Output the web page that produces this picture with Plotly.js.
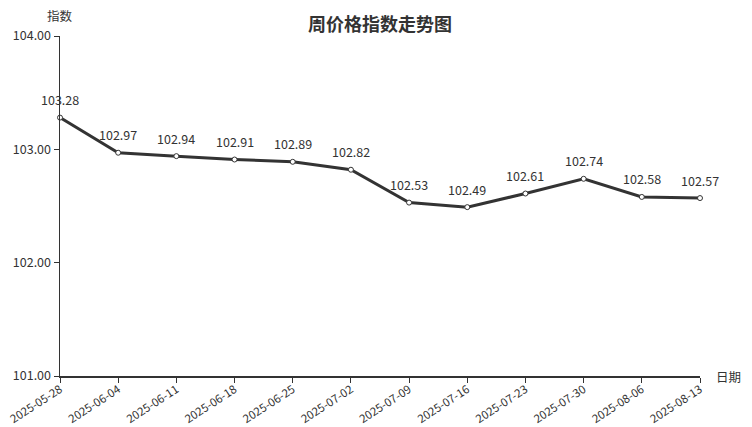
<!DOCTYPE html>
<html>
<head>
<meta charset="utf-8">
<script src="https://cdn.plot.ly/plotly-3.0.1.min.js"></script>
<style>
html, body { margin: 0; padding: 0; background: #fff; }
#chart { width: 752px; height: 427px; }
</style>
</head>
<body>
<div id="chart"></div>
<script>
// Weekly price index
const dates = ["2025-05-28", "2025-06-04", "2025-06-11", "2025-06-18", "2025-06-25", "2025-07-02",
               "2025-07-09", "2025-07-16", "2025-07-23", "2025-07-30", "2025-08-06", "2025-08-13"];
const indexValues = [103.28, 102.97, 102.94, 102.91, 102.89, 102.82,
                     102.53, 102.49, 102.61, 102.74, 102.58, 102.57];
const yTicks = [101, 102, 103, 104];

const FONT = '"Noto Sans CJK SC", "Noto Sans", sans-serif';
const INK = '#333333';

const trace = {
  type: 'scatter',
  mode: 'lines+markers',
  x: dates,
  y: indexValues,
  line: { color: INK, width: 3 },
  marker: { size: 5, color: '#ffffff', line: { color: INK, width: 1 } },
  cliponaxis: false,
  hoverinfo: 'x+y'
};

// value labels floating above each point
const valueLabels = dates.map((d, i) => ({
  x: d, y: indexValues[i], xref: 'x', yref: 'y',
  text: indexValues[i].toFixed(2),
  showarrow: false, xanchor: 'center', yanchor: 'middle', yshift: 18,
  font: { family: FONT, size: 12.5, color: INK }
}));

const layout = {
  width: 752,
  height: 427,
  margin: { l: 60, r: 52, t: 36, b: 51 },
  paper_bgcolor: '#ffffff',
  plot_bgcolor: '#ffffff',
  font: { family: FONT, size: 12, color: INK },
  showlegend: false,
  title: {
    text: '<b>周价格指数走势图</b>',
    font: { family: FONT, size: 18, color: INK },
    x: 0.5, xanchor: 'center', xref: 'paper',
    y: 1 - 25 / 427, yanchor: 'middle', yref: 'container'
  },
  xaxis: {
    type: 'category',
    range: [0, dates.length - 1],
    showgrid: false,
    zeroline: false,
    showline: true,
    linecolor: INK,
    linewidth: 1.5,
    ticks: 'outside',
    ticklen: 5,
    tickcolor: INK,
    tickangle: -33,
    ticklabelstandoff: -4,
    tickfont: { family: FONT, size: 11.5, color: INK }
  },
  yaxis: {
    range: [101, 104],
    tickvals: yTicks,
    ticktext: yTicks.map(v => v.toFixed(2)),
    showgrid: false,
    zeroline: false,
    showline: true,
    linecolor: INK,
    linewidth: 1.5,
    ticks: 'outside',
    ticklen: 5,
    tickcolor: INK,
    tickfont: { family: FONT, size: 12.5, color: INK }
  },
  annotations: valueLabels.concat([
    { text: '指数', xref: 'paper', yref: 'paper', x: 0, y: 1, xanchor: 'center', yanchor: 'middle',
      yshift: 21, showarrow: false, font: { family: FONT, size: 12.5, color: INK } },
    { text: '日期', xref: 'paper', yref: 'paper', x: 1, y: 0, xanchor: 'left', yanchor: 'middle',
      xshift: 14, showarrow: false, font: { family: FONT, size: 12.5, color: INK } }
  ])
};

Plotly.newPlot('chart', [trace], layout, { displayModeBar: false, staticPlot: true });
</script>
</body>
</html>
